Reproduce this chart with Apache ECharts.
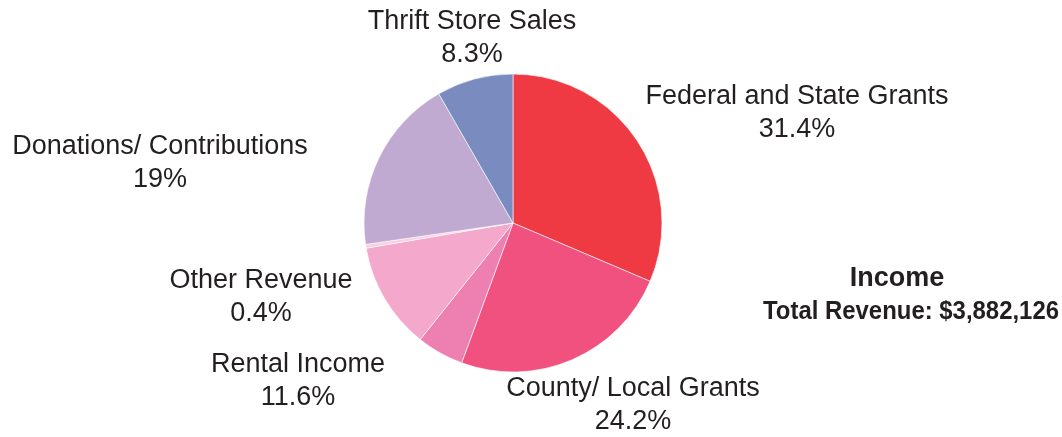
<!DOCTYPE html>
<html>
<head>
<meta charset="utf-8">
<script src="https://cdn.jsdelivr.net/npm/echarts@6/dist/echarts.min.js"></script>
<style>
html,body{margin:0;padding:0;background:#fff;}
#chart{width:1062px;height:437px;}
</style>
</head>
<body>
<div id="chart"></div>
<script>
var categories = ['Federal and State Grants', 'County/ Local Grants', 'Unlabeled', 'Rental Income', 'Other Revenue', 'Donations/ Contributions', 'Thrift Store Sales'];
var values = [31.4, 24.2, 5.1, 11.6, 0.4, 19, 8.3];
var sliceColors = ['#EF3A43', '#F0517F', '#EE80B1', '#F4A8CC', '#F8D0E0', '#C1AAD1', '#798BBF'];
var showLabel = [true, true, false, true, true, true, true];
var titleLines = ['Income', 'Total Revenue: $3,882,126'];

// label anchor positions (centre of each two-line label block)
var labelAnchors = [[797, 113], [633, 405], [0, 0], [298, 381], [261, 297], [160, 163], [472, 38]];

var chart = echarts.init(document.getElementById('chart'));
var data = categories.map(function (c, i) {
  return {
    name: c,
    value: values[i],
    itemStyle: { color: sliceColors[i] },
    label: { show: showLabel[i] }
  };
});

chart.setOption({
  animation: false,
  title: {
    text: titleLines[0],
    left: 892,
    top: 259,
    textAlign: 'center',
    textStyle: {
      fontFamily: 'Liberation Sans, Arial, sans-serif',
      fontWeight: 'bold',
      color: '#231F20',
      fontSize: 27,
      lineHeight: 30
    }
  },
  graphic: [{
    type: 'text',
    x: 911,
    y: 312,
    scaleX: 0.92,
    silent: true,
    style: {
      text: titleLines[1],
      fill: '#231F20',
      font: 'bold 26px "Liberation Sans", Arial, sans-serif',
      textAlign: 'center',
      textVerticalAlign: 'middle'
    }
  }],
  series: [{
    type: 'pie',
    center: [513, 223],
    radius: 149,
    startAngle: 90,
    clockwise: true,
    data: data,
    itemStyle: { borderColor: '#ffffff', borderWidth: 0.6 },
    label: {
      position: 'outside',
      formatter: function (p) { return p.name + '\n' + p.value + '%'; },
      fontFamily: 'Liberation Sans, Arial, sans-serif',
      fontSize: 27,
      lineHeight: 33,
      color: '#231F20',
      align: 'center'
    },
    labelLine: { show: false },
    labelLayout: function (params) {
      var a = labelAnchors[params.dataIndex];
      return { x: a[0], y: a[1], align: 'center', verticalAlign: 'middle' };
    },
    emphasis: { disabled: true }
  }]
});
</script>
</body>
</html>
